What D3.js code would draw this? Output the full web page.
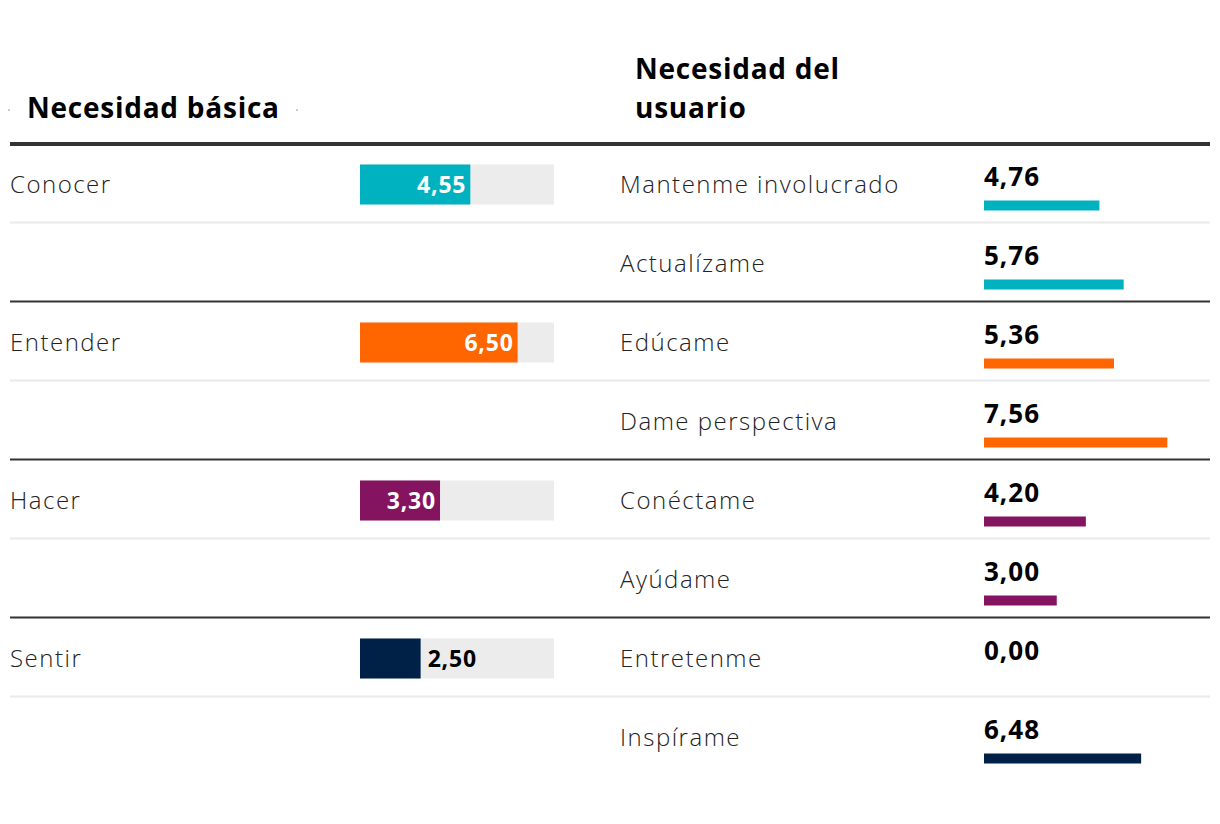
<!DOCTYPE html>
<html>
<head>
<meta charset="utf-8">
<script src="https://cdn.jsdelivr.net/npm/d3@7"></script>
<style>
  html, body { margin: 0; padding: 0; background: #fff; }
  svg { display: block; }
  text { font-family: "Open Sans", "Noto Sans", sans-serif; }
</style>
</head>
<body>
<svg id="chart" width="1220" height="824"></svg>
<script>
const basicCats = ["Conocer", "Entender", "Hacer", "Sentir"];
const basicValues = [4.55, 6.50, 3.30, 2.50];
const userNeeds = ["Mantenme involucrado", "Actualízame", "Edúcame", "Dame perspectiva", "Conéctame", "Ayúdame", "Entretenme", "Inspírame"];
const userValues = [4.76, 5.76, 5.36, 7.56, 4.20, 3.00, 0.00, 6.48];
const userGroup = [0, 0, 1, 1, 2, 2, 3, 3];
const groupColors = ["#00b2c0", "#ff6600", "#841460", "#002147"];
const headers = ["Necesidad básica", ["Necesidad del", "usuario"]];

const svg = d3.select("#chart");
const locale = d3.formatLocale({ decimal: ",", thousands: ".", grouping: [3], currency: ["", "€"] });
const fmt = locale.format(".2f");

const rowIdx = d3.range(userNeeds.length);
const y = d3.scaleBand().domain(rowIdx).range([145, 145 + 79 * userNeeds.length]).padding(0);
const xLeft = d3.scaleLinear().domain([0, 8]).range([360, 554]);
const xRight = d3.scaleLinear().domain([0, 8]).range([984, 1178]);

// headers
svg.append("text").attr("x", 27).attr("y", 118).attr("font-size", 28).attr("font-weight", 700)
  .attr("letter-spacing", 0.75).attr("fill", "#000").text(headers[0]);
headers[1].forEach((t, i) => {
  svg.append("text").attr("x", 635).attr("y", 79 + 39 * i).attr("font-size", 28).attr("font-weight", 700)
    .attr("letter-spacing", 0.75).attr("fill", "#000").text(t);
});
svg.append("rect").attr("x", 8).attr("y", 109).attr("width", 2).attr("height", 2).attr("fill", "#ccc");
svg.append("rect").attr("x", 296).attr("y", 109).attr("width", 2).attr("height", 2).attr("fill", "#ccc");

// separators
rowIdx.slice(1).forEach(i => {
  const major = i % 2 === 0;
  svg.append("line").attr("x1", 10).attr("x2", 1210)
    .attr("y1", y(i) - 1.5).attr("y2", y(i) - 1.5)
    .attr("stroke", major ? "#333" : "#eaeaea").attr("stroke-width", 2);
});
svg.append("line").attr("x1", 10).attr("x2", 1210).attr("y1", 144).attr("y2", 144)
  .attr("stroke", "#333").attr("stroke-width", 4);

// left column
const gL = svg.append("g");
basicCats.forEach((c, k) => {
  const i = k * 2;
  const cy = y(i) + y.bandwidth() / 2;
  gL.append("text").attr("x", 10).attr("y", cy).attr("dy", "0.35em").attr("font-size", 24)
    .attr("font-weight", 300).attr("letter-spacing", 1.5).attr("fill", "#222").text(c);
  gL.append("rect").attr("x", xLeft(0)).attr("y", cy - 20).attr("width", xLeft(8) - xLeft(0)).attr("height", 40)
    .attr("fill", "#ececec");
  const w = xLeft(basicValues[k]) - xLeft(0);
  gL.append("rect").attr("x", xLeft(0)).attr("y", cy - 20).attr("width", w).attr("height", 40)
    .attr("fill", groupColors[k]);
  const inside = w > 70;
  gL.append("text")
    .attr("x", inside ? xLeft(basicValues[k]) - 4 : xLeft(basicValues[k]) + 7)
    .attr("y", cy).attr("dy", "0.36em")
    .attr("text-anchor", inside ? "end" : "start")
    .attr("font-size", 23).attr("font-weight", 700).attr("letter-spacing", 0.8)
    .attr("fill", inside ? "#fff" : "#000")
    .text(fmt(basicValues[k]));
});

// right column
const gR = svg.append("g");
userNeeds.forEach((n, i) => {
  const cy = y(i) + y.bandwidth() / 2;
  gR.append("text").attr("x", 620).attr("y", cy).attr("dy", "0.35em").attr("font-size", 24)
    .attr("font-weight", 300).attr("letter-spacing", 1.5).attr("fill", "#222").text(n);
  gR.append("text").attr("x", xRight(0)).attr("y", cy + 1).attr("font-size", 26).attr("font-weight", 700)
    .attr("letter-spacing", 1).attr("fill", "#000").text(fmt(userValues[i]));
  if (userValues[i] > 0) {
    gR.append("rect").attr("x", xRight(0)).attr("y", cy + 16)
      .attr("width", xRight(userValues[i]) - xRight(0)).attr("height", 10)
      .attr("fill", groupColors[userGroup[i]]);
  }
});
</script>
</body>
</html>
